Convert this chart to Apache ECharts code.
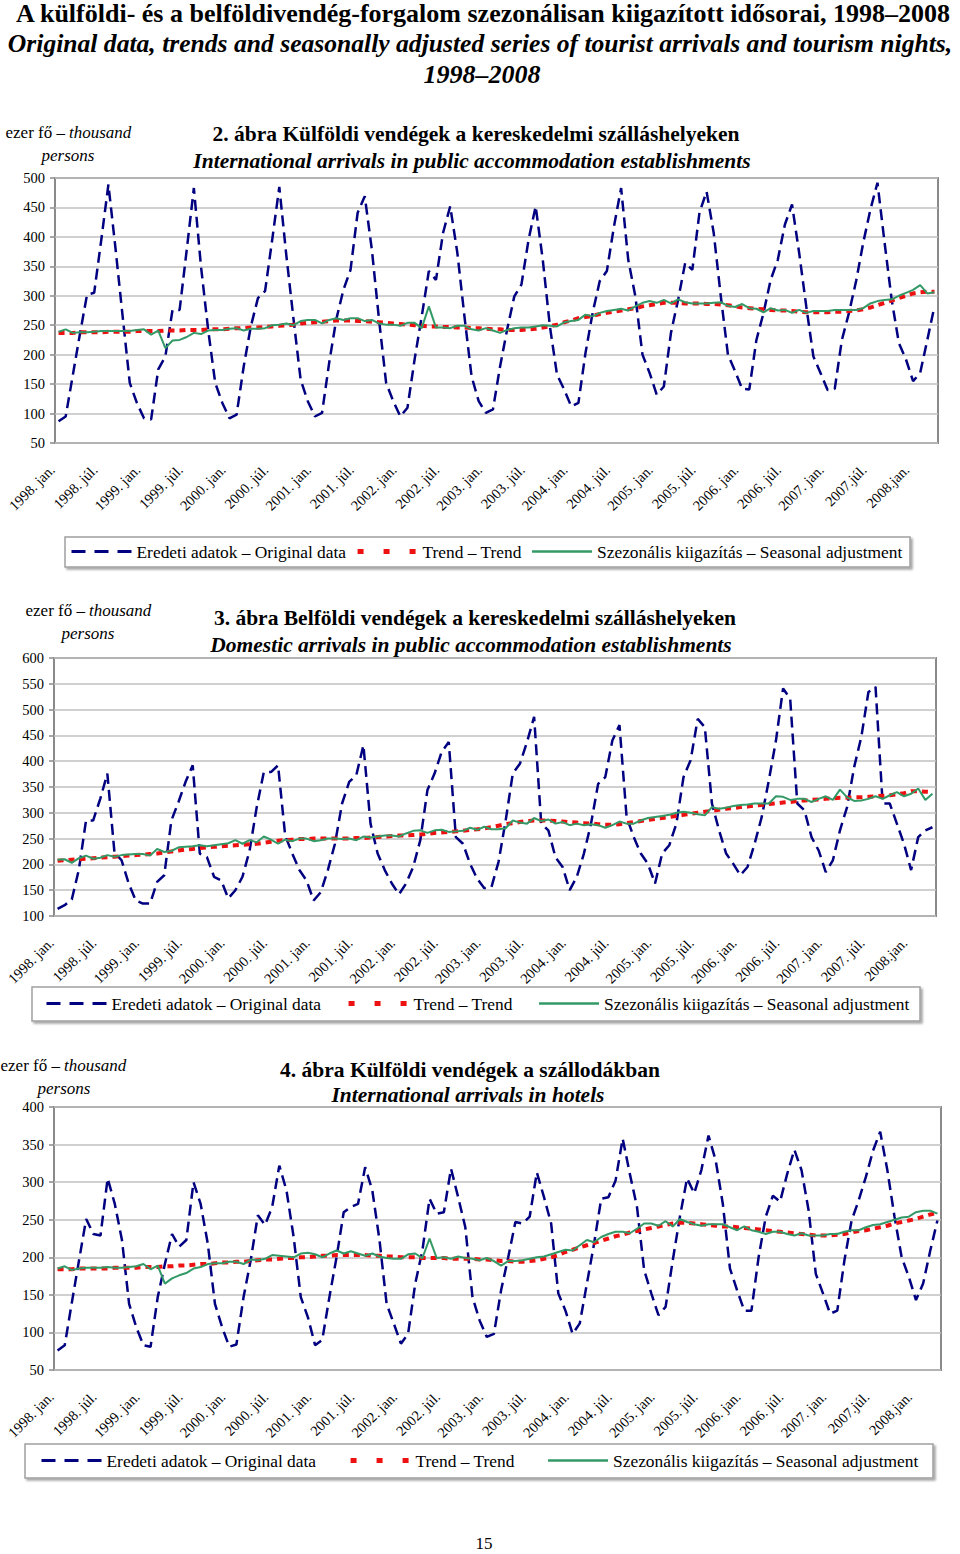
<!DOCTYPE html>
<html><head><meta charset="utf-8">
<script src="https://cdn.jsdelivr.net/npm/echarts@6/dist/echarts.min.js"></script>
<style>html,body{margin:0;padding:0;background:#fff}#c{width:960px;height:1554px}</style>
</head><body><div id="c"></div>
<script>
// ---------- categories ----------
const years = [1998,1999,2000,2001,2002,2003,2004,2005,2006,2007,2008];
const monthNames = ["jan.","febr.","márc.","ápr.","máj.","jún.","júl.","aug.","szept.","okt.","nov.","dec."];
const categories = [];
years.forEach(y => monthNames.forEach(m => { if (categories.length < 124) categories.push(y + ". " + m); }));

// ---------- tick labels ----------
const ticks1 = ["1998. jan.","1998. júl.","1999. jan.","1999. júl.","2000. jan.","2000. júl.","2001. jan.","2001. júl.","2002. jan.","2002. júl.","2003. jan.","2003. júl.","2004. jan.","2004. júl.","2005. jan.","2005. júl.","2006. jan.","2006. júl.","2007. jan.","2007.júl.","2008.jan."];
const ticks2 = ["1998. jan.","1998. júl.","1999. jan.","1999. júl.","2000. jan.","2000. júl.","2001. jan.","2001. júl.","2002. jan.","2002. júl.","2003. jan.","2003. júl.","2004. jan.","2004. júl.","2005. jan.","2005. júl.","2006. jan.","2006. júl.","2007. jan.","2007. júl.","2008.jan."];
const ticks3 = ["1998. jan.","1998. júl.","1999. jan.","1999. júl.","2000. jan.","2000. júl.","2001. jan.","2001. júl.","2002. jan.","2002. júl.","2003. jan.","2003. júl.","2004. jan.","2004. júl.","2005. jan.","2005. júl.","2006. jan.","2006. júl.","2007. jan.","2007.júl.","2008.jan."];

// ---------- chart 2: international arrivals, public accommodation ----------
const c1Orig = [87,95,165,235,302,305,395,489,380,265,152,118,
 92,90,175,197,276,276,378,483,350,243,152,118,
 92,98,180,248,296,308,395,485,367,260,157,121,
 95,101,186,260,310,344,441,469,378,260,152,121,
 95,110,192,265,342,327,407,452,373,265,163,121,
 101,107,180,243,299,319,395,452,361,248,166,141,
 112,118,203,271,325,342,418,483,361,299,200,169,
 132,146,237,293,356,344,441,477,407,299,200,172,
 142,141,225,271,327,361,421,455,373,282,197,169,
 140,142,225,271,325,390,446,492,390,293,220,192,
 155,169,225,282];
const c1Trend = [237,237,237,238,238,238,238,239,239,239,239,240,
 240,240,240,241,241,241,242,242,242,243,243,243,
 244,245,245,246,246,247,248,249,250,251,253,254,
 255,256,257,258,258,258,257,257,256,255,254,253,
 252,251,250,249,248,248,247,247,246,246,245,245,
 244,243,243,242,242,242,243,244,246,248,251,255,
 258,262,264,266,269,271,273,275,277,279,282,284,
 286,288,288,288,287,287,287,286,286,285,284,282,
 280,279,278,277,276,275,275,274,273,272,272,272,
 272,273,273,274,275,277,280,284,288,292,296,300,
 304,306,307,307];
const c1SA = [239,243,237,238,238,239,240,240,240,240,240,242,
 243,234,241,211,224,225,230,237,235,241,242,242,
 244,245,241,244,244,245,250,251,253,250,257,259,
 259,253,259,262,259,262,262,257,259,253,251,251,
 249,254,254,245,282,246,246,245,249,249,243,241,
 245,241,237,242,245,246,246,248,250,249,248,255,
 257,259,268,265,271,274,276,278,275,282,288,291,
 288,293,287,294,289,287,287,287,288,289,283,281,
 286,279,278,272,279,275,276,271,276,271,274,274,
 274,276,276,276,276,279,287,291,293,294,300,305,
 310,318,304,306];

// ---------- chart 3: domestic arrivals ----------
const c2Orig = [114,121,132,190,285,285,327,376,223,208,163,130,
 124,124,166,179,285,321,360,392,221,214,176,169,
 134,150,176,227,311,379,379,392,256,221,189,169,
 130,146,189,240,318,360,373,431,279,221,189,163,
 142,163,195,247,344,376,418,437,253,240,201,172,
 154,156,205,285,376,395,437,486,279,266,214,195,
 150,176,221,279,356,369,440,470,292,253,221,201,
 163,221,237,279,369,402,482,466,318,266,221,201,
 179,195,240,292,363,440,541,521,318,305,253,227,
 185,208,266,311,389,447,534,544,318,318,279,240,
 189,253,266,272];
const c2Trend = [207,208,209,210,211,212,213,214,215,216,217,218,
 219,220,221,223,225,227,229,230,232,233,234,235,
 236,237,238,239,240,242,244,246,247,248,249,249,
 250,250,250,250,250,250,251,251,252,253,254,255,
 256,256,257,258,259,261,262,263,264,265,267,268,
 270,272,275,278,280,282,284,285,285,285,284,283,
 282,281,280,279,278,277,277,278,280,282,284,286,
 288,290,292,294,296,298,300,302,304,306,308,309,
 311,312,314,315,317,318,320,321,323,324,325,326,
 327,328,329,329,330,330,331,332,333,334,336,338,
 342,342,341,340];
const c2SA = [209,210,203,212,217,211,213,218,215,218,219,220,
 220,217,230,224,226,233,234,235,237,235,237,239,
 241,247,240,247,243,254,248,240,248,245,250,250,
 245,247,250,250,249,250,247,254,252,254,256,256,
 254,260,265,266,261,266,267,263,264,265,271,267,
 273,268,268,270,285,281,279,290,284,287,279,282,
 276,279,276,278,276,271,276,283,279,279,285,290,
 292,294,296,300,302,300,297,295,311,308,310,313,
 315,316,318,318,318,332,331,325,327,327,321,327,
 332,325,345,330,323,324,327,332,327,334,340,332,
 337,347,325,337];

// ---------- chart 4: international arrivals in hotels ----------
const c3Orig = [76,83,140,196,251,231,229,305,271,223,138,107,
 83,81,147,191,231,214,223,300,271,218,138,107,
 81,84,147,196,256,243,267,322,289,227,147,120,
 83,90,147,200,260,267,271,320,289,223,138,112,
 85,98,165,209,278,258,260,318,280,240,147,116,
 94,98,156,200,247,245,254,313,280,245,152,129,
 98,112,165,218,278,280,302,358,311,267,183,152,
 123,134,196,254,305,285,316,362,329,271,185,156,
 129,129,200,254,282,274,311,343,316,262,178,152,
 125,129,196,249,276,307,342,367,316,254,200,174,
 143,165,209,249];
const c3Trend = [184,184,184,185,185,185,185,185,186,186,186,186,
 187,187,187,188,188,189,189,190,191,191,192,193,
 193,194,194,195,196,197,197,198,199,199,200,200,
 201,202,202,203,203,203,203,203,202,202,201,201,
 200,200,200,199,199,199,199,198,198,198,198,197,
 197,196,195,195,194,194,195,196,198,200,203,207,
 210,213,216,219,222,225,228,230,233,235,237,239,
 241,243,245,246,246,245,244,243,242,241,241,240,
 239,238,237,236,235,234,233,232,231,230,229,229,
 229,230,231,233,235,236,238,240,242,245,247,249,
 251,254,257,259];
const c3SA = [185,188,183,185,186,186,186,187,186,186,187,188,
 191,184,189,165,172,176,179,185,187,191,192,192,
 194,194,191,197,196,198,203,202,201,200,205,206,
 204,200,205,209,205,208,205,202,205,201,199,198,
 198,204,205,199,225,199,200,198,201,199,198,196,
 199,195,189,195,195,196,198,200,201,204,207,210,
 209,216,223,220,227,231,234,234,232,238,245,245,
 242,248,241,251,247,244,242,244,244,244,240,236,
 241,236,234,231,234,234,231,229,232,229,229,229,
 231,231,234,236,236,240,243,244,247,250,253,254,
 260,262,262,258];

const seriesNames = ["Eredeti adatok – Original data", "Trend – Trend", "Szezonális kiigazítás – Seasonal adjustment"];

// ---------- layout ----------
const FONT = "'Liberation Serif','Times New Roman',serif";
const panels = [
  { grid:{left:55, top:178, width:883, height:265}, min:50, max:500, ticks:ticks1, data:[c1Orig,c1Trend,c1SA],
    legend:{left:70, top:543, gap:9}, box:[65,537,845,30],
    unit:{y:132, split:65, px:68, py:155},
    title:["2. ábra Külföldi vendégek a kereskedelmi szálláshelyeken","International arrivals in public accommodation establishments"], tx:[476,472], ty:[134,161] },
  { grid:{left:54, top:658, width:882, height:258}, min:100, max:600, ticks:ticks2, data:[c2Orig,c2Trend,c2SA],
    legend:{left:45, top:995, gap:25}, box:[32,987,888,34],
    unit:{y:610, split:85, px:88, py:633},
    title:["3. ábra Belföldi vendégek a kereskedelmi szálláshelyeken","Domestic arrivals in public accommodation establishments"], tx:[475,471], ty:[618,645] },
  { grid:{left:54, top:1107, width:887, height:263}, min:50, max:400, ticks:ticks3, data:[c3Orig,c3Trend,c3SA],
    legend:{left:40, top:1452, gap:32}, box:[25,1444,908,34],
    unit:{y:1065, split:60, px:64, py:1088},
    title:["4. ábra Külföldi vendégek a szállodákban","International arrivals in hotels"], tx:[470,468], ty:[1070,1095] }
];

function txt(x, y, text, font, align) {
  return { type:'text', silent:true, style:{ x:x, y:y, text:text, font:font, fill:'#000',
    textAlign:align||'center', textVerticalAlign:'middle', align:align||'center', verticalAlign:'middle' } };
}

const grids = [], xAxes = [], yAxes = [], series = [], legends = [], graphics = [];
graphics.push(txt(483, 13, "A külföldi- és a belföldivendég-forgalom szezonálisan kiigazított idősorai, 1998–2008", "bold 26px " + FONT));
graphics.push(txt(480, 43, "Original data, trends and seasonally adjusted series of tourist arrivals and tourism nights,", "italic bold 25.6px " + FONT));
graphics.push(txt(482, 74, "1998–2008", "italic bold 26px " + FONT));
graphics.push(txt(484, 1543, "15", "17px " + FONT));

panels.forEach((p, k) => {
  grids.push(Object.assign({ show:true, backgroundColor:'#fff', borderColor:'#8a8a8a', borderWidth:2, containLabel:false }, p.grid));
  xAxes.push({ type:'category', gridIndex:k, data:categories, boundaryGap:true,
    axisLine:{show:false}, axisTick:{show:false}, splitLine:{show:false},
    axisLabel:{ interval:(i)=> i % 6 === 0, rotate:45, margin:18, padding:[0,9,0,0], fontFamily:FONT, fontSize:14.5, color:'#000',
      formatter:(v, i) => p.ticks[Math.round(i/6)] } });
  yAxes.push({ type:'value', gridIndex:k, min:p.min, max:p.max, interval:50,
    axisLine:{show:false}, axisTick:{show:true, length:5, lineStyle:{color:'#8a8a8a', width:1.5}},
    splitLine:{show:true, lineStyle:{color:'#c0c0c0', width:1.5}},
    axisLabel:{ margin:10, fontFamily:FONT, fontSize:14.5, color:'#000' } });
  series.push({ name:seriesNames[0], type:'line', xAxisIndex:k, yAxisIndex:k, data:p.data[0], symbol:'none', z:2,
    lineStyle:{ color:'#000080', width:2.5, type:[11,6] }, itemStyle:{color:'#000080'} });
  series.push({ name:seriesNames[1], type:'line', xAxisIndex:k, yAxisIndex:k, data:p.data[1], symbol:'none', z:3,
    lineStyle:{ color:'#ee1111', width:4, type:[6,5] }, itemStyle:{color:'#ee1111'} });
  series.push({ name:seriesNames[2], type:'line', xAxisIndex:k, yAxisIndex:k, data:p.data[2], symbol:'none', z:4,
    lineStyle:{ color:'#339966', width:2 }, itemStyle:{color:'#339966'} });
  legends.push({ left:p.legend.left, top:p.legend.top, padding:0, itemGap:p.legend.gap, itemWidth:60, itemHeight:14,
    selectedMode:false, textStyle:{ fontFamily:FONT, fontSize:17.4, color:'#000' },
    data:[
      { name:seriesNames[0], itemStyle:{opacity:0}, lineStyle:{ color:'#000080', width:3, type:[14,9] } },
      { name:seriesNames[1], itemStyle:{opacity:0}, lineStyle:{ color:'#ee1111', width:5, type:[6,20] } },
      { name:seriesNames[2], itemStyle:{opacity:0}, lineStyle:{ color:'#339966', width:2.5, type:'solid' } }
    ] });
  graphics.push({ type:'rect', silent:true, z:-10, shape:{ x:p.box[0], y:p.box[1], width:p.box[2], height:p.box[3] },
    style:{ fill:'#fff', stroke:'#a0a0a0', lineWidth:1.5, shadowBlur:2, shadowOffsetX:2, shadowOffsetY:2, shadowColor:'rgba(0,0,0,0.35)' } });
  graphics.push(txt(p.unit.split, p.unit.y, "ezer fő –", "17px " + FONT, 'right'));
  graphics.push(txt(p.unit.split + 4, p.unit.y, "thousand", "italic 17px " + FONT, 'left'));
  graphics.push(txt(p.unit.px, p.unit.py, "persons", "italic 17px " + FONT, 'center'));
  graphics.push(txt(p.tx[0], p.ty[0], p.title[0], "bold 21.5px " + FONT));
  graphics.push(txt(p.tx[1], p.ty[1], p.title[1], "italic bold 21.5px " + FONT));
});

const chart = echarts.init(document.getElementById('c'), null, { renderer:'svg', width:960, height:1554 });
chart.setOption({
  animation:false, backgroundColor:'#fff',
  grid:grids, xAxis:xAxes, yAxis:yAxes, series:series, legend:legends, graphic:graphics
});
</script>
</body></html>
